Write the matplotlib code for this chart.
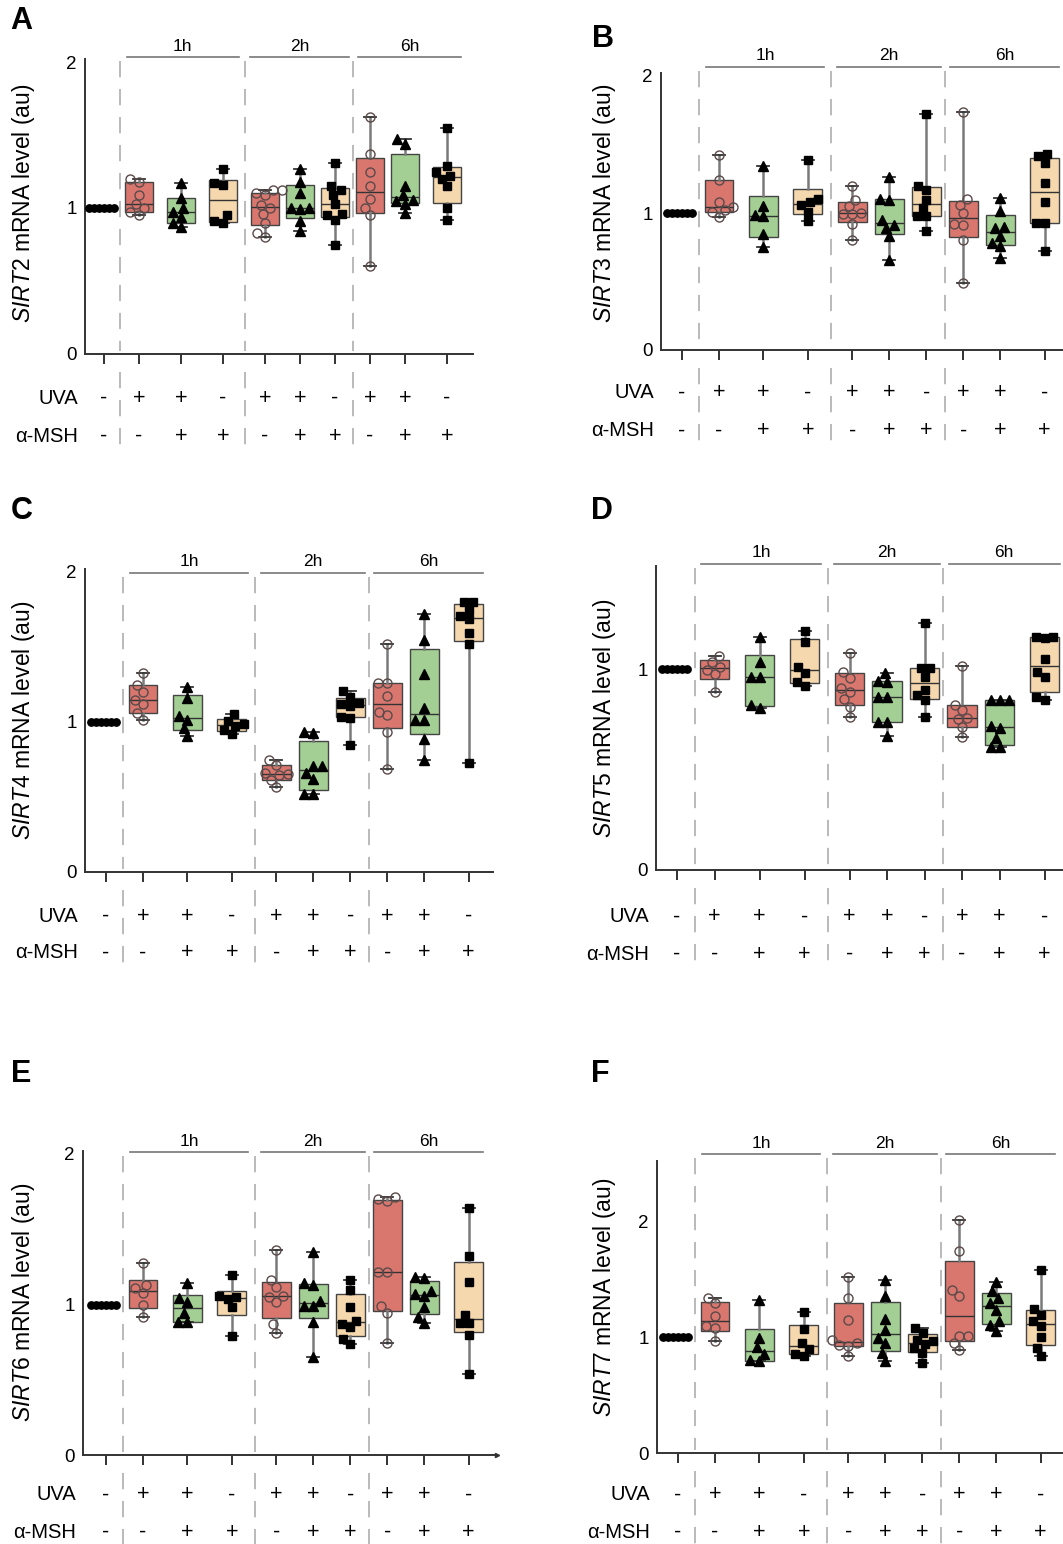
import numpy as np
import matplotlib.pyplot as plt

plt.rcParams['font.family'] = ['Liberation Sans', 'DejaVu Sans']
plt.rcParams['mathtext.fontset'] = 'custom'
plt.rcParams['mathtext.rm'] = 'Liberation Sans'
plt.rcParams['mathtext.it'] = 'Liberation Sans:italic'

W, H = 1063, 1544

# ---------------- data ----------------
genes = ['SIRT2', 'SIRT3', 'SIRT4', 'SIRT5', 'SIRT6', 'SIRT7']
letters = ['A', 'B', 'C', 'D', 'E', 'F']
times = ['1h', '2h', '6h']
uva = ['-', '+', '+', '-', '+', '+', '-', '+', '+', '-']
msh = ['-', '-', '+', '+', '-', '+', '+', '-', '+', '+']
control = [1.0, 1.0, 1.0, 1.0, 1.0, 1.0]

# groups: 1h UVA, 1h UVA+MSH, 1h MSH, 2h UVA, 2h UVA+MSH, 2h MSH, 6h UVA, 6h UVA+MSH, 6h MSH
sirt2 = [
    [1.20, 1.18, 1.09, 1.03, 1.00, 0.97, 0.95],
    [1.17, 1.07, 1.00, 0.97, 0.94, 0.90, 0.87],
    [1.265, 1.17, 1.16, 0.95, 0.91, 0.895],
    [1.12, 1.12, 1.10, 1.09, 1.02, 1.00, 0.96, 0.90, 0.83, 0.80],
    [1.265, 1.18, 1.10, 1.00, 1.00, 0.99, 0.91, 0.84],
    [1.31, 1.15, 1.12, 1.09, 1.03, 0.96, 0.95, 0.92, 0.75],
    [1.62, 1.37, 1.25, 1.15, 1.065, 1.00, 0.95, 0.60],
    [1.47, 1.44, 1.15, 1.09, 1.055, 1.045, 1.03, 0.965],
    [1.55, 1.29, 1.25, 1.22, 1.20, 1.15, 1.00, 0.92],
]
sirt3 = [
    [1.42, 1.24, 1.08, 1.045, 1.02, 1.01, 0.97],
    [1.34, 1.05, 0.985, 0.975, 0.85, 0.755],
    [1.39, 1.10, 1.08, 1.055, 1.01, 0.94],
    [1.20, 1.095, 1.05, 1.00, 0.995, 0.99, 0.92, 0.80],
    [1.265, 1.105, 1.095, 0.95, 0.91, 0.89, 0.83, 0.66],
    [1.72, 1.20, 1.17, 1.095, 1.035, 0.98, 0.975, 0.87],
    [1.74, 1.10, 1.06, 1.00, 0.92, 0.91, 0.80, 0.49],
    [1.107, 1.017, 0.90, 0.888, 0.832, 0.779, 0.759, 0.669],
    [1.43, 1.415, 1.367, 1.22, 1.083, 0.925, 0.925, 0.725],
]
sirt4 = [
    [1.33, 1.245, 1.20, 1.145, 1.12, 1.06, 1.015],
    [1.233, 1.16, 1.038, 1.016, 0.96, 0.904],
    [1.055, 1.01, 0.99, 0.975, 0.945, 0.92],
    [0.749, 0.715, 0.66, 0.656, 0.644, 0.616, 0.567],
    [0.933, 0.927, 0.704, 0.704, 0.66, 0.622, 0.522, 0.522],
    [1.21, 1.17, 1.13, 1.12, 1.11, 1.035, 1.03, 0.85],
    [1.522, 1.26, 1.26, 1.171, 1.067, 1.044, 0.933, 0.689],
    [1.718, 1.544, 1.318, 1.096, 1.016, 1.016, 0.889, 0.744],
    [1.80, 1.80, 1.749, 1.704, 1.689, 1.593, 1.522, 0.727],
]
sirt5 = [
    [1.068, 1.038, 1.012, 0.998, 0.975, 0.889],
    [1.163, 1.038, 0.963, 0.963, 0.822, 0.806],
    [1.191, 1.138, 1.013, 0.98, 0.939, 0.917],
    [1.083, 0.988, 0.955, 0.905, 0.889, 0.85, 0.814, 0.764],
    [0.983, 0.944, 0.939, 0.86, 0.86, 0.739, 0.739, 0.668],
    [1.233, 1.005, 1.005, 0.963, 0.897, 0.872, 0.847, 0.761],
    [1.018, 0.822, 0.797, 0.757, 0.751, 0.711, 0.664],
    [0.847, 0.847, 0.847, 0.718, 0.706, 0.656, 0.615, 0.615],
    [1.163, 1.163, 1.154, 1.05, 0.985, 0.963, 0.864, 0.847],
]
sirt6 = [
    [1.274, 1.13, 1.107, 1.074, 0.997, 0.919],
    [1.141, 1.041, 1.019, 0.941, 0.886, 0.886],
    [1.196, 1.056, 1.048, 1.034, 0.981, 0.791],
    [1.362, 1.163, 1.114, 1.056, 1.052, 1.019, 0.87, 0.813],
    [1.351, 1.141, 1.13, 1.025, 0.99, 0.99, 0.886, 0.653],
    [1.163, 1.096, 0.986, 0.893, 0.87, 0.848, 0.769, 0.738],
    [1.715, 1.70, 1.69, 1.218, 1.218, 0.99, 0.946, 0.746],
    [1.185, 1.175, 1.09, 1.07, 1.055, 0.985, 0.92, 0.875],
    [1.639, 1.322, 1.152, 0.93, 0.879, 0.875, 0.797, 0.538],
]
sirt7 = [
    [1.338, 1.295, 1.18, 1.094, 1.079, 0.964],
    [1.318, 0.993, 0.912, 0.858, 0.80, 0.791],
    [1.214, 1.07, 0.95, 0.898, 0.858, 0.835],
    [1.519, 1.338, 1.151, 0.975, 0.95, 0.935, 0.921, 0.835],
    [1.496, 1.353, 1.157, 1.065, 0.993, 0.95, 0.863, 0.791],
    [1.08, 1.04, 0.98, 0.965, 0.94, 0.905, 0.865, 0.78],
    [2.009, 1.741, 1.404, 1.353, 1.013, 1.013, 0.95, 0.886],
    [1.473, 1.396, 1.338, 1.295, 1.237, 1.137, 1.108, 1.05],
    [1.577, 1.243, 1.194, 1.137, 1.099, 1.001, 0.906, 0.835],
]
all_data = [sirt2, sirt3, sirt4, sirt5, sirt6, sirt7]

# ---------------- layout / style ----------------
slot = [0, 1, 2.2, 3.4, 4.6, 5.6, 6.6, 7.6, 8.6, 9.8]
seps = [0.47, 4.02, 7.1]
brackets = [(0.65, 3.85), (4.18, 7.0), (7.25, 10.2)]
box_colors = ['#d9776f', '#a3cf94', '#f6d8ae'] * 3
markers = ['o', '^', 's'] * 3

# pixel geometry of each panel
panels = [
    dict(left=85, right=473, y0=354, ypx=146, ymax=2.02, yt=[0, 1, 2], x0=104, xu=35,
         lab=(24, 203), let=(10, 6), br=297, su=44, sm=82),
    dict(left=661, right=1090, y0=350, ypx=137, ymax=2.02, yt=[0, 1, 2], x0=682, xu=37,
         lab=(604, 203), let=(592, 24), br=283, su=43, sm=81),
    dict(left=85, right=493, y0=872, ypx=150, ymax=2.02, yt=[0, 1, 2], x0=106, xu=37,
         lab=(24, 720), let=(11, 496), br=299, su=44, sm=81),
    dict(left=656, right=1090, y0=870, ypx=200.7, ymax=1.515, yt=[0, 1], x0=677, xu=37.5,
         lab=(604, 718), let=(591, 496), br=306, su=47, sm=84),
    dict(left=83, right=497, y0=1455, ypx=150.5, ymax=2.02, yt=[0, 1, 2], x0=106, xu=37,
         lab=(24, 1302), let=(11, 1059), br=303, su=40, sm=77),
    dict(left=657, right=1090, y0=1453, ypx=115.8, ymax=2.52, yt=[0, 1, 2], x0=678, xu=37,
         lab=(604, 1297), let=(591, 1059), br=299, su=42, sm=79),
]


def swarm(values, ypx, xu, d):
    vals = np.asarray(values, float)
    order = np.argsort(vals, kind='stable')
    xs = np.zeros(len(vals))
    placed = []
    for i in order:
        y = vals[i] * ypx
        forbidden = []
        for px, py in placed:
            dy = abs(py - y)
            if dy < d:
                half = np.sqrt(d * d - dy * dy)
                forbidden.append((px - half, px + half))
        cands = [0.0] + [e for iv in forbidden for e in iv]
        cands.sort(key=lambda c: (abs(c), c))
        x = 0.0
        for c in cands:
            if all(not (lo + 1e-6 < c < hi - 1e-6) for lo, hi in forbidden):
                x = c
                break
        xs[i] = x
        placed.append((x, y))
    return xs / xu


fig = plt.figure(figsize=(W / 100, H / 100), dpi=100)

for k, p in enumerate(panels):
    top = p['y0'] - p['ymax'] * p['ypx']
    h = p['y0'] - top
    ax = fig.add_axes([p['left'] / W, 1 - p['y0'] / H, (p['right'] - p['left']) / W, h / H])

    groups = all_data[k]
    stats = []
    for vals in groups:
        q1, med, q3 = np.percentile(vals, [25, 50, 75], method='weibull')
        stats.append(dict(med=med, q1=q1, q3=q3, whislo=min(vals), whishi=max(vals), fliers=[]))
    bp = ax.bxp(stats, positions=slot[1:], widths=0.78, patch_artist=True, showfliers=False,
                capwidths=0.32, manage_ticks=False,
                boxprops=dict(edgecolor='#444444', linewidth=1.0),
                medianprops=dict(color='#333333', linewidth=1.0),
                whiskerprops=dict(color='#7a7a7a', linewidth=1.8),
                capprops=dict(color='#333333', linewidth=1.3))
    for patch, c in zip(bp['boxes'], box_colors):
        patch.set_facecolor(c)

    ax.set_xlim((p['left'] - p['x0']) / p['xu'], (p['right'] - p['x0']) / p['xu'])
    ax.set_ylim(0, p['ymax'])
    for s in ['top', 'right']:
        ax.spines[s].set_visible(False)
    for s in ['left', 'bottom']:
        ax.spines[s].set_color('#333333')
        ax.spines[s].set_linewidth(1.4)
    ax.set_xticks(slot)
    ax.set_xticklabels([])
    ax.tick_params(axis='x', length=7, width=1.3, color='#222222')
    ax.set_yticks(p['yt'])
    ax.set_yticklabels([str(t) for t in p['yt']])
    ax.tick_params(axis='y', length=0, pad=6, labelsize=13.5)

    # control dots
    cx = swarm(control, p['ypx'], p['xu'], 5.0)
    ax.plot(slot[0] + cx, control, 'o', color='black', ms=5.3, ls='none', zorder=3, clip_on=False)

    for j, vals in enumerate(groups):
        off = swarm(vals, p['ypx'], p['xu'], 9.0)
        m = markers[j]
        if m == 'o':
            ax.plot(slot[j + 1] + off, vals, 'o', ms=6.5, mfc='none', mec='#5a4a4a', mew=1.0,
                    ls='none', zorder=3, clip_on=False)
        elif m == '^':
            ax.plot(slot[j + 1] + off, vals, '^', ms=6.8, color='black', ls='none', zorder=3,
                    clip_on=False)
        else:
            ax.plot(slot[j + 1] + off, vals, 's', ms=5.8, color='black', ls='none', zorder=3,
                    clip_on=False)

    # dashed separators (above and below the axis)
    xtr = ax.get_xaxis_transform()
    for s in seps:
        ax.plot([s, s], [(p['br'] - 4) / h, 3 / h], transform=xtr, color='#b4b4b4', lw=1.3,
                ls=(0, (9, 6.5)), clip_on=False, zorder=1)
        ax.plot([s, s], [-18 / h, -92 / h], transform=xtr, color='#b4b4b4', lw=1.3,
                ls=(0, (9, 6.5)), clip_on=False, zorder=1)

    # time brackets
    for (b0, b1), t in zip(brackets, times):
        ax.plot([b0, b1], [p['br'] / h, p['br'] / h], transform=xtr, color='#777777', lw=1.2,
                clip_on=False)
        ax.annotate(t, xy=((b0 + b1) / 2, p['br'] / h), xycoords=xtr, xytext=(0, 11),
                    textcoords='offset pixels', ha='center', va='center', fontsize=12.5,
                    annotation_clip=False)

    # treatment rows
    for i in range(len(slot)):
        ax.annotate(uva[i], xy=(slot[i], 0), xycoords=xtr, xytext=(0, -p['su']),
                    textcoords='offset pixels', ha='center', va='center', fontsize=15.5,
                    annotation_clip=False)
        ax.annotate(msh[i], xy=(slot[i], 0), xycoords=xtr, xytext=(0, -p['sm']),
                    textcoords='offset pixels', ha='center', va='center', fontsize=15.5,
                    annotation_clip=False)
    ax.annotate('UVA', xy=(0, 0), xycoords='axes fraction', xytext=(-7, -p['su']),
                textcoords='offset pixels', ha='right', va='center', fontsize=14.5,
                annotation_clip=False)
    ax.annotate('\u03b1-MSH', xy=(0, 0), xycoords='axes fraction', xytext=(-7, -p['sm']),
                textcoords='offset pixels', ha='right', va='center', fontsize=14.5,
                annotation_clip=False)

    if k == 4:
        ax.plot(1, 0, '>', transform=ax.transAxes, color='#333333', ms=3, clip_on=False)

    lx, ly = p['lab']
    fig.text(lx / W, 1 - ly / H, r'$\mathit{' + genes[k] + r'}$ mRNA level (au)', rotation=90,
             ha='center', va='center', fontsize=16.5)
    tx, ty = p['let']
    fig.text(tx / W, 1 - ty / H, letters[k], ha='left', va='top', fontsize=22, fontweight='bold')

fig.savefig('out.png', dpi=100)
